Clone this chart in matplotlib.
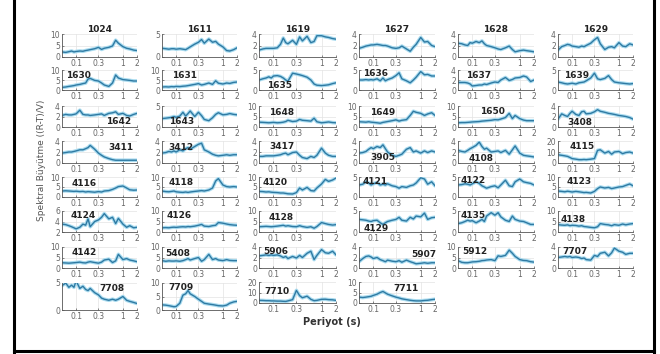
import matplotlib
matplotlib.use('Agg')
import matplotlib.pyplot as plt
from matplotlib.lines import Line2D

# periods (s) at which the spectral ratios were read
periods = [0.05, 0.06, 0.07, 0.08, 0.09, 0.1, 0.12, 0.14, 0.16, 0.18, 0.2, 0.25,
           0.3, 0.35, 0.4, 0.5, 0.6, 0.7, 0.8, 1.0, 1.2, 1.4, 1.7, 2.0]

# station layout, row by row
rows = [['1024', '1611', '1619', '1627', '1628', '1629'],
        ['1630', '1631', '1635', '1636', '1637', '1639'],
        ['1642', '1643', '1648', '1649', '1650', '3408'],
        ['3411', '3412', '3417', '3905', '4108', '4115'],
        ['4116', '4118', '4120', '4121', '4122', '4123'],
        ['4124', '4126', '4128', '4129', '4135', '4138'],
        ['4142', '5408', '5906', '5907', '5912', '7707'],
        ['7708', '7709', '7710', '7711']]

# spectral amplification (R-T)/V per station
s1024 = [2.2,2.0,2.3,2.6,2.2,2.4,2.6,2.5,2.8,3.0,3.2,3.6,4.2,3.3,3.8,4.2,4.8,7.3,6.0,4.5,3.8,3.5,3.0,2.8]
s1611 = [1.9,1.8,1.7,1.8,1.8,1.7,1.8,1.7,1.6,1.9,2.2,2.8,3.2,3.8,3.0,3.9,3.2,3.4,2.8,2.2,1.4,1.3,1.6,2.0]
s1619 = [1.2,1.4,1.5,1.5,1.5,1.5,1.6,2.2,3.3,2.5,2.3,2.9,2.2,3.5,2.8,3.6,2.5,2.7,3.7,3.7,3.5,3.4,3.2,3.1]
s1627 = [1.5,1.7,1.9,2.0,2.1,2.1,2.2,2.1,2.0,2.0,1.9,1.6,1.5,1.6,1.9,1.4,1.0,1.7,2.2,3.4,2.6,2.7,2.0,1.8]
s1628 = [2.4,2.3,2.1,2.0,2.5,2.4,2.7,2.5,2.8,2.3,2.0,1.8,1.6,1.4,1.3,1.6,1.9,1.3,0.9,1.1,1.2,1.1,1.0,0.9]
s1629 = [1.2,1.8,2.0,2.2,2.1,1.9,1.8,1.7,1.9,1.8,2.0,2.4,3.0,3.4,2.3,1.3,1.7,1.8,1.6,2.5,1.9,1.8,2.3,2.1]

s1630 = [1.3,1.5,1.8,2.0,2.2,2.5,2.8,3.2,3.5,5.5,5.8,4.8,4.5,3.5,2.5,1.8,3.5,7.5,6.0,5.2,5.0,4.8,4.5,4.5]
s1631 = [1.5,1.6,1.5,1.7,1.6,1.8,1.7,1.9,2.0,2.2,2.4,2.8,3.2,2.5,2.8,3.5,2.8,4.6,3.4,3.0,3.5,3.3,3.8,4.0]
s1635 = [2.5,2.8,3.0,3.3,3.0,3.5,3.6,3.4,3.0,2.5,2.2,4.2,4.0,3.8,3.6,3.2,2.5,1.5,1.2,1.1,1.2,1.3,1.6,1.8]
s1636 = [2.5,2.5,2.6,2.5,2.6,2.5,2.8,2.3,3.0,2.3,2.6,3.0,3.6,4.3,2.8,2.3,1.8,2.5,3.2,4.6,3.8,3.9,3.5,3.5]
s1637 = [1.5,1.5,1.5,1.4,1.2,0.8,0.9,1.0,1.0,1.2,1.1,1.4,1.6,1.5,2.0,2.5,1.9,2.1,2.4,2.5,2.8,2.6,1.7,2.0]
s1639 = [2.0,1.8,1.6,1.5,1.6,1.7,1.5,1.8,1.9,2.0,2.3,3.0,4.2,2.8,2.6,2.9,3.6,2.6,2.0,1.8,1.7,1.6,1.5,1.6]

s1642 = [2.2,2.4,2.3,2.3,2.4,2.5,3.2,2.4,2.3,2.3,2.2,2.3,2.4,2.5,2.2,2.6,2.7,2.9,2.4,2.6,2.2,2.1,2.4,2.6]
s1643 = [2.0,2.1,2.2,2.3,2.5,2.3,2.6,3.5,2.6,3.2,3.8,2.5,3.5,2.7,1.8,1.5,2.2,3.0,3.4,2.9,3.0,3.2,3.0,2.9]
s1648 = [2.3,2.2,2.1,2.0,2.1,2.2,2.0,2.1,2.3,2.6,3.2,2.6,2.8,3.6,3.2,3.0,2.8,4.2,2.5,2.0,2.2,2.4,2.1,2.0]
s1649 = [2.5,2.4,2.3,2.5,2.3,2.2,2.0,1.8,2.2,2.4,2.6,3.0,3.4,2.8,3.2,3.5,5.5,7.5,7.0,6.5,5.5,6.2,6.8,5.5]
s1650 = [2.0,2.1,2.1,2.2,2.3,2.4,2.5,2.6,2.8,2.9,3.0,3.2,3.5,3.4,3.8,4.5,6.5,4.0,5.5,4.0,3.3,3.0,3.0,3.0]
s3408 = [1.5,2.5,2.2,2.0,2.6,3.0,2.4,2.2,2.9,3.0,2.5,2.6,2.9,3.3,3.0,2.8,2.6,2.5,2.4,2.2,2.1,2.0,1.8,1.5]

s3411 = [1.8,1.9,2.0,2.0,2.1,2.2,2.4,2.4,2.6,2.8,3.2,2.5,1.8,1.4,1.1,0.8,0.6,0.5,0.5,0.5,0.5,0.5,0.5,0.5]
s3412 = [1.8,1.9,2.1,2.0,2.2,2.0,2.4,2.2,2.6,2.8,2.5,3.0,3.4,3.6,2.4,2.0,1.6,1.4,1.3,1.4,1.5,1.4,1.5,1.5]
s3417 = [1.2,1.2,1.3,1.3,1.3,1.3,1.4,1.5,1.7,1.8,1.5,1.9,2.0,1.4,1.0,0.8,1.2,1.0,1.4,2.7,1.8,1.4,1.2,1.2]
s3905 = [1.8,1.9,2.1,2.5,2.8,2.6,3.0,2.8,3.3,2.6,2.0,1.4,1.2,1.4,1.6,2.5,2.8,2.0,2.2,1.8,2.2,1.9,2.2,2.0]
s4108 = [2.3,2.1,2.0,2.3,2.6,2.8,3.2,3.8,3.0,2.5,2.7,2.0,2.1,2.2,1.9,2.3,1.6,2.4,3.1,1.8,1.4,1.3,1.2,1.1]
s4115 = [7.5,7.0,6.5,6.0,5.0,4.0,3.5,3.0,3.0,3.2,3.0,3.5,4.0,11.5,12.0,9.0,10.5,8.0,10.0,10.5,8.5,9.5,10.0,9.0]

s4116 = [3.0,3.1,3.0,2.9,2.8,2.9,2.7,2.8,2.5,2.7,2.6,2.4,2.7,2.5,3.0,3.2,3.8,4.5,5.2,5.5,4.5,3.6,3.4,3.5]
s4118 = [3.0,2.7,2.6,2.8,3.0,2.6,2.4,2.3,2.5,2.3,2.5,2.8,3.0,3.2,3.0,3.5,4.5,8.0,9.2,6.0,5.2,5.0,5.2,5.0]
s4120 = [2.8,2.7,2.5,2.6,2.4,2.3,2.2,2.0,2.0,1.8,1.6,1.5,2.2,4.5,3.5,4.8,3.2,3.0,4.5,6.5,8.8,7.8,8.5,9.5]
s4121 = [3.0,3.2,3.8,3.5,3.0,3.3,3.6,3.0,3.2,3.0,3.3,2.8,2.6,2.2,2.6,2.4,2.8,3.0,3.5,4.8,4.5,3.2,3.8,2.8]
s4122 = [3.0,3.1,3.3,3.2,3.0,3.3,3.8,3.4,2.8,2.5,2.2,2.6,2.8,2.3,3.0,4.2,2.8,2.6,3.8,4.5,3.8,3.6,3.4,3.0]
s4123 = [3.0,2.8,2.6,2.9,2.7,2.5,2.8,2.6,2.4,2.2,2.3,2.0,2.8,4.2,5.0,4.5,4.8,4.2,4.5,5.0,5.2,5.8,6.5,5.6]

s4124 = [3.5,3.4,3.2,3.0,2.8,2.6,2.9,3.5,3.3,4.5,3.0,4.0,4.3,4.8,5.5,4.5,4.8,3.6,4.6,3.5,2.9,3.2,2.8,2.9]
s4126 = [2.0,2.1,2.0,2.2,2.3,2.2,2.4,2.5,2.4,2.6,2.5,2.8,3.2,3.6,2.8,2.6,3.0,3.2,4.5,4.2,3.8,3.5,3.3,3.2]
s4128 = [2.5,2.6,2.7,2.6,2.5,2.6,2.8,3.0,3.2,2.8,3.0,2.6,2.5,3.0,2.6,2.2,2.5,1.8,2.6,4.5,4.0,3.6,3.3,3.5]
s4129 = [3.0,2.9,2.8,2.6,2.5,2.7,2.8,2.2,1.8,2.2,2.5,2.8,3.0,3.5,2.8,2.6,3.5,3.1,3.8,3.6,4.5,3.0,3.4,3.5]
s4135 = [2.0,2.2,2.5,2.8,2.6,2.7,2.2,2.6,3.0,2.5,3.8,4.6,4.0,4.6,3.6,2.8,2.5,3.8,3.0,2.6,2.5,2.2,1.8,1.8]
s4138 = [3.5,3.3,3.2,3.4,3.0,3.2,3.1,2.8,3.0,2.6,2.5,2.2,2.0,2.5,4.0,3.6,3.4,3.0,3.5,3.2,3.8,3.4,3.8,4.0]

s4142 = [2.5,2.4,2.3,2.4,2.5,2.6,2.8,2.5,2.4,2.8,3.0,2.6,2.3,2.8,3.8,4.2,2.6,3.4,6.5,4.0,4.5,3.8,3.4,3.0]
s5408 = [3.5,3.2,3.4,3.3,3.3,3.4,3.2,3.5,4.0,4.5,3.8,4.5,5.0,3.2,4.0,6.5,4.0,4.5,3.8,3.5,4.0,3.6,3.5,3.5]
s5906 = [2.3,2.4,2.5,2.4,2.5,2.4,2.5,2.3,2.0,2.2,1.8,2.2,1.9,2.4,2.0,2.8,3.2,1.6,2.4,3.5,2.9,2.8,3.2,2.5]
s5907 = [1.2,1.8,2.2,2.3,2.1,1.8,2.0,1.6,1.4,1.2,1.5,1.3,1.2,1.4,1.1,1.5,1.2,1.0,0.8,0.9,1.0,0.9,1.0,1.0]
s5912 = [3.5,2.7,2.5,2.5,2.7,2.9,3.0,3.2,3.5,3.6,3.8,4.0,3.5,5.8,5.5,6.0,8.5,7.0,5.5,4.0,3.6,3.5,3.0,2.8]
s7707 = [2.0,2.1,2.2,2.1,2.2,2.0,2.1,2.0,1.8,1.9,1.6,1.5,2.4,2.2,2.8,3.0,2.3,2.9,3.8,3.2,3.0,2.6,2.8,2.8]

s7708 = [4.5,5.0,4.2,4.6,4.2,5.4,4.0,4.4,3.8,3.6,4.0,3.2,2.8,2.2,2.0,1.8,2.0,1.8,2.0,2.5,1.8,1.6,1.4,1.2]
s7709 = [1.9,1.8,1.6,1.4,1.2,1.3,2.5,5.5,6.0,7.2,6.0,5.0,4.0,3.2,2.5,2.2,2.0,1.8,1.6,1.5,1.8,2.5,3.0,3.2]
s7710 = [2.5,2.4,2.2,2.2,2.0,2.0,1.8,1.8,1.6,1.5,2.0,3.2,12.0,7.0,5.0,6.5,3.5,2.2,2.5,3.5,3.6,3.2,3.0,2.5]
s7711 = [2.8,2.6,2.8,3.0,3.2,3.6,4.2,5.0,5.5,4.8,4.2,3.4,2.8,2.4,2.0,1.6,1.3,1.1,1.0,1.0,1.2,1.3,1.6,1.8]

ratio = {k[1:]: v for k, v in globals().copy().items() if k.startswith('s') and k[1:].isdigit()}

# y tick values shown on each panel
yticks = {'1024': [0, 5, 10], '1611': [0, 5], '1619': [0, 2, 4], '1627': [0, 2, 4], '1628': [0, 2, 4], '1629': [0, 2, 4],
          '1630': [0, 5, 10], '1631': [0, 5, 10], '1635': [0, 5], '1636': [0, 5], '1637': [0, 2, 4], '1639': [0, 5],
          '1642': [0, 2, 4], '1643': [0, 5], '1648': [0, 5, 10], '1649': [0, 5, 10], '1650': [0, 5, 10], '3408': [0, 2, 4],
          '3411': [0, 2, 4], '3412': [0, 2, 4], '3417': [0, 2, 4], '3905': [0, 2, 4], '4108': [0, 2, 4], '4115': [0, 10, 20],
          '4116': [0, 5, 10], '4118': [0, 5, 10], '4120': [0, 5, 10], '4121': [0, 5], '4122': [0, 5], '4123': [0, 5, 10],
          '4124': [2, 4, 6], '4126': [0, 5, 10], '4128': [0, 5, 10], '4129': [0, 5], '4135': [0, 5], '4138': [0, 5, 10],
          '4142': [0, 5, 10], '5408': [0, 5, 10], '5906': [0, 2, 4], '5907': [0, 2, 4], '5912': [0, 5, 10], '7707': [0, 2, 4],
          '7708': [0, 5], '7709': [0, 5, 10], '7710': [0, 10, 20], '7711': [0, 5, 10]}

xticks = [0.1, 0.3, 1, 2]
xticklabels = ['0.1', '0.3', '1', '2']

# where the station name sits inside the panel (axes fraction, left x)
label_pos = {'1630': (0.05, 0.75), '1631': (0.13, 0.7), '1635': (0.1, 0.2), '1636': (0.05, 0.8), '1637': (0.11, 0.7), '1639': (0.08, 0.75),
             '1642': (0.59, 0.24), '1643': (0.1, 0.24), '1648': (0.13, 0.68), '1649': (0.15, 0.7), '1650': (0.29, 0.73), '3408': (0.12, 0.2),
             '3411': (0.62, 0.7), '3412': (0.09, 0.7), '3417': (0.13, 0.76), '3905': (0.15, 0.27), '4108': (0.14, 0.2), '4115': (0.16, 0.73),
             '4116': (0.13, 0.68), '4118': (0.09, 0.73), '4120': (0.05, 0.71), '4121': (0.05, 0.8), '4122': (0.03, 0.84), '4123': (0.11, 0.76),
             '4124': (0.12, 0.77), '4126': (0.06, 0.77), '4128': (0.12, 0.7), '4129': (0.06, 0.15), '4135': (0.03, 0.77), '4138': (0.04, 0.6),
             '4142': (0.13, 0.74), '5408': (0.05, 0.7), '5906': (0.05, 0.8), '5907': (0.69, 0.62), '5912': (0.06, 0.77), '7707': (0.06, 0.77),
             '7708': (0.5, 0.8), '7709': (0.08, 0.85), '7710': (0.07, 0.55), '7711': (0.45, 0.7)}

W, H = 660, 354
col_x = [(62, 137), (162, 237), (259, 336), (359, 435), (458, 534), (558, 633)]
row_y = [(34, 57), (70, 90), (106, 127), (141, 163), (177, 197), (211, 232), (247, 268), (283, 310)]
row_y_mid = [(34, 57), (70, 90), (106, 127), (141, 163), (177, 197), (211, 232), (247, 268), (282, 303)]

fig = plt.figure(figsize=(W / 100, H / 100), dpi=100)
fig.patch.set_facecolor('white')

for r, row in enumerate(rows):
    for c, name in enumerate(row):
        x0, x1 = col_x[c]
        yt, yb = (row_y_mid if c in (2, 3) else row_y)[r]
        ax = fig.add_axes([x0 / W, 1 - yb / H, (x1 - x0) / W, (yb - yt) / H])
        ax.plot(periods, ratio[name], color='#a9dbef', lw=2.6, solid_capstyle='round')
        ax.plot(periods, ratio[name], color='#2f7aa3', lw=1.0)
        ax.set_xscale('log')
        ax.set_xlim(0.05, 2)
        yt_ = yticks[name]
        ax.set_ylim(yt_[0], yt_[-1])
        ax.set_yticks(yt_)
        ax.set_xticks(xticks)
        ax.set_xticklabels(xticklabels)
        ax.minorticks_off()
        ax.grid(True, color='#e3e3e3', lw=0.5)
        ax.set_axisbelow(True)
        for s in ('top', 'right'):
            ax.spines[s].set_visible(False)
        for s in ('left', 'bottom'):
            ax.spines[s].set_color('#555555')
            ax.spines[s].set_linewidth(0.6)
        ax.tick_params(labelsize=5.5, labelcolor='#666666', color='#555555',
                       length=1.5, width=0.5, pad=1.5, direction='in')
        if r == 0:
            ax.set_title(name, fontsize=6.5, fontweight='bold', color='#222222', pad=1.5)
        else:
            fx, fy = label_pos[name]
            ax.text(fx, fy, name, transform=ax.transAxes, fontsize=6.5,
                    fontweight='bold', color='#222222', ha='left', va='center')

fig.text(42 / W, 1 - 160 / H, 'Spektral Büyütme ((R-T)/V)', rotation=90,
         fontsize=6.5, color='#555555', ha='center', va='center')
fig.text(332 / W, 1 - 322 / H, 'Periyot (s)', fontsize=7, fontweight='bold',
         color='#333333', ha='center', va='center')

# black frame (left, right, bottom)
fig.add_artist(Line2D([14 / W, 14 / W], [0.4 / H, 1], transform=fig.transFigure, color='black', lw=2.2))
fig.add_artist(Line2D([654 / W, 654 / W], [0.4 / H, 1], transform=fig.transFigure, color='black', lw=2.2))
fig.add_artist(Line2D([14 / W, 654 / W], [3 / H, 3 / H], transform=fig.transFigure, color='black', lw=2.2))

fig.savefig('out.png', dpi=100)
